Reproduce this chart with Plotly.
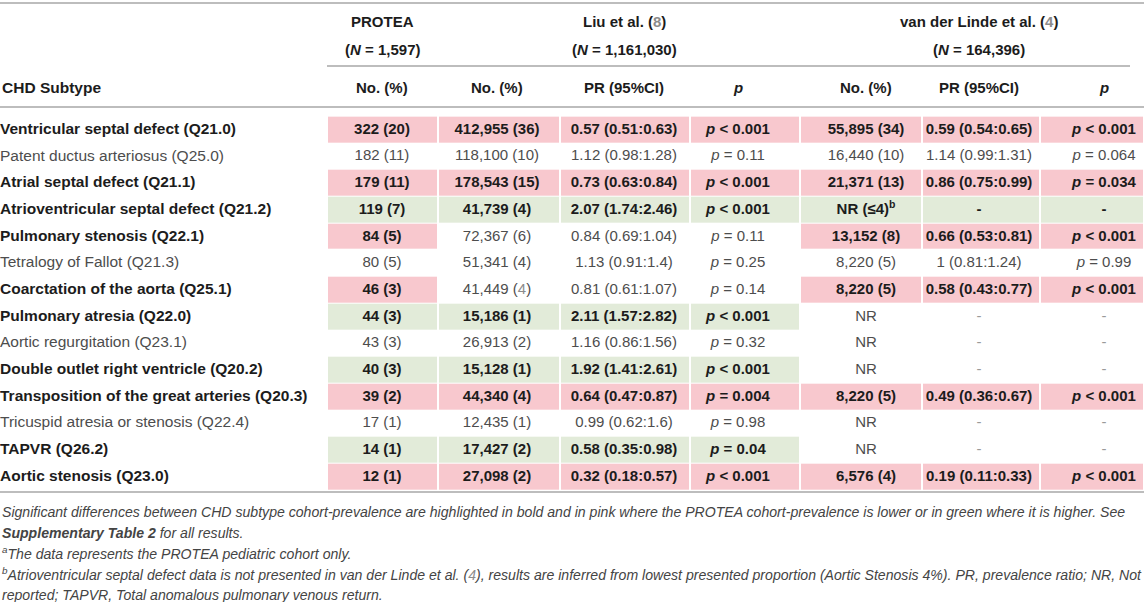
import plotly.graph_objects as go

# Table data
subtypes = ["Ventricular septal defect (Q21.0)", "Patent ductus arteriosus (Q25.0)",
            "Atrial septal defect (Q21.1)", "Atrioventricular septal defect (Q21.2)",
            "Pulmonary stenosis (Q22.1)", "Tetralogy of Fallot (Q21.3)",
            "Coarctation of the aorta (Q25.1)", "Pulmonary atresia (Q22.0)",
            "Aortic regurgitation (Q23.1)", "Double outlet right ventricle (Q20.2)",
            "Transposition of the great arteries (Q20.3)", "Tricuspid atresia or stenosis (Q22.4)",
            "TAPVR (Q26.2)", "Aortic stenosis (Q23.0)"]
protea_no = ["322 (20)", "182 (11)", "179 (11)", "119 (7)", "84 (5)", "80 (5)", "46 (3)",
             "44 (3)", "43 (3)", "40 (3)", "39 (2)", "17 (1)", "14 (1)", "12 (1)"]
liu_no = ["412,955 (36)", "118,100 (10)", "178,543 (15)", "41,739 (4)", "72,367 (6)", "51,341 (4)",
          "41,449 (4)", "15,186 (1)", "26,913 (2)", "15,128 (1)", "44,340 (4)", "12,435 (1)",
          "17,427 (2)", "27,098 (2)"]
liu_pr = ["0.57 (0.51:0.63)", "1.12 (0.98:1.28)", "0.73 (0.63:0.84)", "2.07 (1.74:2.46)",
          "0.84 (0.69:1.04)", "1.13 (0.91:1.4)", "0.81 (0.61:1.07)", "2.11 (1.57:2.82)",
          "1.16 (0.86:1.56)", "1.92 (1.41:2.61)", "0.64 (0.47:0.87)", "0.99 (0.62:1.6)",
          "0.58 (0.35:0.98)", "0.32 (0.18:0.57)"]
liu_p = ["< 0.001", "= 0.11", "< 0.001", "< 0.001", "= 0.11", "= 0.25", "= 0.14",
         "< 0.001", "= 0.32", "< 0.001", "= 0.004", "= 0.98", "= 0.04", "< 0.001"]
vdl_no = ["55,895 (34)", "16,440 (10)", "21,371 (13)", "NR (≤4)<sup>b</sup>", "13,152 (8)", "8,220 (5)",
          "8,220 (5)", "NR", "NR", "NR", "8,220 (5)", "NR", "NR", "6,576 (4)"]
vdl_pr = ["0.59 (0.54:0.65)", "1.14 (0.99:1.31)", "0.86 (0.75:0.99)", "-", "0.66 (0.53:0.81)",
          "1 (0.81:1.24)", "0.58 (0.43:0.77)", "-", "-", "-", "0.49 (0.36:0.67)", "-", "-",
          "0.19 (0.11:0.33)"]
vdl_p = ["< 0.001", "= 0.064", "= 0.034", "-", "< 0.001", "= 0.99", "< 0.001",
         "-", "-", "-", "< 0.001", "-", "-", "< 0.001"]

# significant differences: PROTEA "lower" (pink) or "higher" (green)
liu_diff = ["lower", "", "lower", "higher", "", "", "", "higher", "", "higher", "lower", "", "higher", "lower"]
vdl_diff = ["lower", "", "lower", "higher", "lower", "", "lower", "", "", "", "lower", "", "", "lower"]

col_headers = ["No. (%)", "No. (%)", "PR (95%CI)", "<i>p</i>", "No. (%)", "PR (95%CI)", "<i>p</i>"]
groups = ["PROTEA", "Liu et al. (<span style='color:#8c8c8c'>8</span>)",
          "van der Linde et al. (<span style='color:#8c8c8c'>4</span>)"]
group_n = ["(<i>N</i> = 1,597)", "(<i>N</i> = 1,161,030)", "(<i>N</i> = 164,396)"]

footnotes = [
    "<i>Significant differences between CHD subtype cohort-prevalence are highlighted in bold and in pink "
    "where the PROTEA cohort-prevalence is lower or in green where it is higher. See</i>",
    "<i><b>Supplementary Table 2</b> for all results.</i>",
    "<i><sup>a</sup>The data represents the PROTEA pediatric cohort only.</i>",
    "<i><sup>b</sup>Atrioventricular septal defect data is not presented in van der Linde et al. "
    "(<span style='color:#8c8c8c'>4</span>), results are inferred from lowest presented proportion "
    "(Aortic Stenosis 4%). PR, prevalence ratio; NR, Not</i>",
    "<i>reported; TAPVR, Total anomalous pulmonary venous return.</i>",
]

# layout (pixel-like x axis, row units on y)
FONT = "Liberation Sans"
PINK = "#f8c8ce"
GREEN = "#e2ebd9"
RULE = "#bdbdbd"
DARK = "#1c1c1c"
REG = "#4d4d4d"
col_edges = [0, 327, 438, 560, 690, 800, 922, 1040, 1144]
col_centers = [382, 497, 624, 738, 866, 979, 1104]
code = {"": 0, "lower": 1, "higher": 2}

n = len(subtypes)
z = []
for i in range(n):
    first = liu_diff[i] or vdl_diff[i]
    z.append([0, code[first]] + [code[liu_diff[i]]] * 3 + [code[vdl_diff[i]]] * 3)

fig = go.Figure()
fig.add_trace(go.Heatmap(
    z=z, x=col_edges, y=[i - 0.5 for i in range(n + 1)],
    colorscale=[[0, "#ffffff"], [0.5, PINK], [1, GREEN]], zmin=0, zmax=2,
    xgap=2, ygap=1, showscale=False, hoverinfo="skip"))


def fmt_p(v):
    if v == "-":
        return v
    return "<i>p</i> " + v.replace("<", "&lt;")


columns = [protea_no, liu_no, liu_pr, [fmt_p(v) for v in liu_p],
           vdl_no, vdl_pr, [fmt_p(v) for v in vdl_p]]

for c, values in enumerate(columns):
    texts, colors = [], []
    for i, v in enumerate(values):
        hl = z[i][c + 1] > 0
        if v == "41,449 (4)":
            v = "41,449 (<span style='color:#8c8c8c'>4</span>)"
        texts.append("<b>" + v + "</b>" if hl else v)
        if hl:
            colors.append(DARK)
        elif v == "-":
            colors.append("#9a9a9a")
        else:
            colors.append(REG)
    fig.add_trace(go.Scatter(
        x=[col_centers[c]] * n, y=list(range(n)), mode="text", text=texts,
        textposition="middle center", textfont=dict(family=FONT, size=15, color=colors),
        hoverinfo="skip", cliponaxis=False, showlegend=False))

# row labels
label_bold = [bool(liu_diff[i] or vdl_diff[i]) for i in range(n)]
fig.add_trace(go.Scatter(
    x=[0] * n, y=list(range(n)), mode="text",
    text=["<b>" + s + "</b>" if b else s for s, b in zip(subtypes, label_bold)],
    textposition="middle right",
    textfont=dict(family=FONT, size=15.5, color=[DARK if b else REG for b in label_bold]),
    hoverinfo="skip", cliponaxis=False, showlegend=False))

# header
ann = []
head_font = dict(family=FONT, size=15, color=DARK)
group_x = [col_centers[0], col_centers[2], col_centers[5]]
for gx, g, gn in zip(group_x, groups, group_n):
    ann.append(dict(x=gx, y=-4.05, text="<b>" + g + "</b>", showarrow=False, font=head_font))
    ann.append(dict(x=gx, y=-3.0, text="<b>" + gn + "</b>", showarrow=False, font=head_font))
ann.append(dict(x=0, y=-1.61, text="<b>CHD Subtype</b>", xanchor="left", showarrow=False,
                font=dict(family=FONT, size=15.5, color=DARK)))
for cx, h in zip(col_centers, col_headers):
    ann.append(dict(x=cx, y=-1.61, text="<b>" + h + "</b>", showarrow=False, font=head_font))

for k, f in enumerate(footnotes):
    ann.append(dict(x=0, y=14.3 + k * 0.78, text=f, xanchor="left", showarrow=False,
                    font=dict(family=FONT, size=14.1, color="#444444")))
for a in ann:
    a.update(xref="x", yref="y")

shapes = [
    dict(type="line", x0=0, x1=1144, y0=-4.76, y1=-4.76),
    dict(type="line", x0=327, x1=1130, y0=-2.4, y1=-2.4),
    dict(type="line", x0=0, x1=1144, y0=-0.86, y1=-0.86),
    dict(type="line", x0=0, x1=1144, y0=n - 0.44, y1=n - 0.44),
]
for s in shapes:
    s.update(xref="x", yref="y", line=dict(color=RULE, width=2))

fig.update_layout(
    width=1144, height=602, margin=dict(l=0, r=0, t=0, b=0),
    paper_bgcolor="white", plot_bgcolor="white",
    xaxis=dict(range=[0, 1144], visible=False, fixedrange=True),
    yaxis=dict(range=[17.684, -4.871], visible=False, fixedrange=True),
    annotations=ann, shapes=shapes, showlegend=False,
)

# drop the default page margin so the figure sits at the window corner
fig.write_html("out.html", config={"displayModeBar": False},
               post_script="document.body.style.margin='0px';")
